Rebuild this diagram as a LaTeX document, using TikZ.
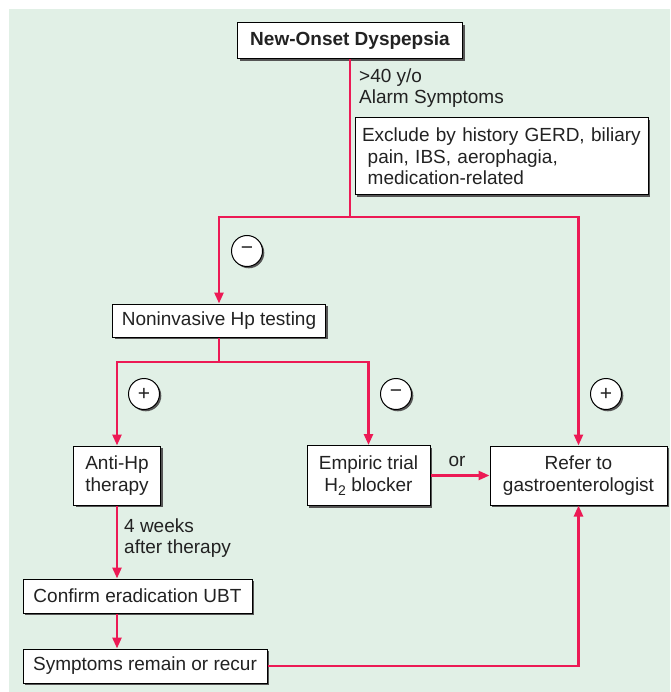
\documentclass[tikz,border=0pt]{standalone}
\usepackage{fontspec}
\setmainfont{Liberation Sans}
\usetikzlibrary{arrows.meta,shadows}
\definecolor{bgmint}{HTML}{E1F0E6}
\definecolor{linkred}{HTML}{EC1A55}
\definecolor{shadowgray}{HTML}{555555}
\definecolor{txt}{HTML}{222222}
\tikzset{
  boxnode/.style={draw=black, line width=1pt, fill=white, text=txt, inner sep=0pt,
    font=\fontsize{19}{22}\selectfont, align=center,
    drop shadow={shadow xshift=2.2pt, shadow yshift=-2.2pt, fill=shadowgray, opacity=1}},
  signnode/.style={circle, draw=black, line width=1pt, fill=white, text=txt,
    minimum size=31pt, inner sep=0pt, font=\fontsize{21}{21}\selectfont,
    drop shadow={shadow xshift=1.8pt, shadow yshift=-1.8pt, fill=shadowgray, opacity=1}},
  labelnode/.style={text=txt, inner sep=0pt, align=left, font=\fontsize{19}{21.5}\selectfont},
  link/.style={draw=linkred, line width=2.5pt},
  arrowlink/.style={link, -{Triangle[length=11pt,width=9pt]}},
}
\begin{document}
\begin{tikzpicture}[x=1pt,y=-1pt]
\useasboundingbox (0,0) rectangle (670,692);
\fill[bgmint] (9,9) rectangle (670,692);

% nodes
\node[boxnode, minimum width=225pt, minimum height=36pt, font=\fontsize{19}{22}\selectfont\bfseries] (top) at (350,41) {New-Onset Dyspepsia};
\node[labelnode, anchor=west] (alarm) at (359,88) {>40 y/o\\Alarm Symptoms};
\node[boxnode, minimum width=293pt, minimum height=77pt, align=left, text width=279pt,
      font=\fontsize{19}{21.5}\selectfont] (excl) at (501.5,156.5)
  {Exclude by history GERD, biliary\\\hspace*{0.3em}pain, IBS, aerophagia,\\\hspace*{0.3em}medication-related};

\coordinate (j1) at (350,217);
\node[signnode] (m1) at (247,251) {\textminus};

\node[boxnode, minimum width=213pt, minimum height=33pt] (nonin) at (219,320.5) {Noninvasive Hp testing};
\coordinate (j2) at (219,362);

\node[signnode] (p1) at (144,394) {+};
\node[signnode] (m2) at (396,394) {\textminus};
\node[signnode] (p2) at (606,394) {+};

\node[boxnode, minimum width=87pt, minimum height=59pt] (antihp) at (117,475.5) {Anti-Hp\\therapy};
\node[boxnode, minimum width=123pt, minimum height=60pt] (empiric) at (368.5,475.5)
  {Empiric trial\\H\lower4pt\hbox{\fontsize{14}{14}\selectfont 2} blocker};
\node[boxnode, minimum width=177pt, minimum height=59pt] (refer) at (578.5,475.5) {Refer to\\gastroenterologist};
\node[labelnode] (or) at (457,461) {or};

\node[labelnode, anchor=west] (weeks) at (124,538) {4 weeks\\after therapy};

\node[boxnode, minimum width=229pt, minimum height=34pt] (confirm) at (137.5,596) {Confirm eradication UBT};
\node[boxnode, minimum width=244pt, minimum height=34pt] (symp) at (145,666) {Symptoms remain or recur};

% connectors
\draw[link] (top.south) -- (j1);
\draw[arrowlink] (j1) -| (nonin.north);
\draw[arrowlink] (j1) -| (refer.north);
\draw[link] (nonin.south) -- (j2);
\draw[arrowlink] (j2) -| (antihp.north);
\draw[arrowlink] (j2) -| (empiric.north);
\draw[arrowlink] (antihp.south) -- (antihp.south |- confirm.north);
\draw[arrowlink] (antihp.south |- confirm.south) -- (antihp.south |- symp.north);
\draw[arrowlink] (empiric.east) -- (refer.west);
\draw[arrowlink] (symp.east) -| (refer.south);
\end{tikzpicture}
\end{document}
